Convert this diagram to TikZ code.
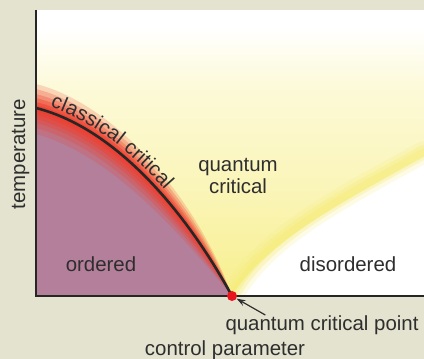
\documentclass[tikz,border=0pt]{standalone}
\usepackage{fontspec}
\usetikzlibrary{arrows.meta,decorations.text}
\newfontfamily\plotsans{Liberation Sans}
\newcommand{\plotfont}{\plotsans\fontsize{20.5}{21.5}\selectfont}
\definecolor{panel}{HTML}{E4E3CF}
\definecolor{orderedfill}{HTML}{B47F9A}
\definecolor{glow}{HTML}{EE4030}
\definecolor{fan}{HTML}{F6EC78}
\definecolor{ink}{HTML}{2E2E2E}
\definecolor{qcpred}{HTML}{E8141E}
\pgfdeclareverticalshading{plotsky}{100bp}{color(0bp)=(fan!85!white);
  color(25bp)=(fan!85!white); color(42bp)=(fan!55!white);
  color(62bp)=(fan!28!white); color(72bp)=(white); color(100bp)=(white)}

\begin{document}
\begin{tikzpicture}[x=1bp, y=1bp,
  axis/.style={line width=2.4bp, draw=black!85},
  phase/.style={line width=2.6bp, draw=black!85},
  lbl/.style={font=\plotfont, text=ink, inner sep=0pt},
  band/.style={fill=glow, draw=none},
  halo/.style={draw=fan, line cap=round}
]
% panel and plot area
\fill[panel] (0,0) rectangle (424,359);
\useasboundingbox (0,0) rectangle (424,359);
\shade[shading=plotsky] (36,63) rectangle (424,348);

\begin{scope}
\clip (36,63) rectangle (424,348);
% disordered side
\fill[white] (232,63) .. controls (265,115) and (330,150) .. (424,202)
  -- (424,63) -- cycle;
\draw[halo, line width=22bp, opacity=.2] (232,63) .. controls (263,119) and (329,155) .. (424,207);
\draw[halo, line width=14bp, opacity=.3] (232,63) .. controls (263,119) and (329,155) .. (424,207);
\draw[halo, line width=7bp, opacity=.4] (232,63) .. controls (263,119) and (329,155) .. (424,207);
% ordered side
\fill[orderedfill] (36,63) -- (36,251) .. controls (115,231) and (185,149) .. (232,63) -- cycle;
% glow round the classical line
\fill[band, opacity=.2] (36,275) .. controls (115,255) and (197,161) .. (232,63)
  .. controls (172,136) and (107.2,205) .. (36,225) -- cycle;
\fill[band, opacity=.25] (36,270) .. controls (115,250) and (194.5,158.5) .. (232,63)
  .. controls (175,139) and (109,211) .. (36,231) -- cycle;
\fill[band, opacity=.3] (36,265) .. controls (115,245) and (192,156) .. (232,63)
  .. controls (177.5,141.5) and (110.5,216) .. (36,236) -- cycle;
\fill[band, opacity=.4] (36,261) .. controls (115,241) and (190,154) .. (232,63)
  .. controls (179.5,143.5) and (111.7,220) .. (36,240) -- cycle;
\fill[band, opacity=.55] (36,257) .. controls (115,237) and (188,152) .. (232,63)
  .. controls (181.5,145.5) and (112.9,224) .. (36,244) -- cycle;
\fill[band, opacity=.7] (36,254) .. controls (115,234) and (186.5,150.5) .. (232,63)
  .. controls (183,147) and (113.8,227) .. (36,247) -- cycle;
\end{scope}

% phase boundary and axes
\draw[phase] (36,251) .. controls (115,231) and (185,149) .. (232,63);
\path[decorate, decoration={text along path, text={|\plotfont|classical critical},
  text color=ink, raise=5bp, text align={left indent=13bp}}]
  (36,251) .. controls (115,231) and (185,149) .. (232,63);
\draw[axis] (36,349) -- (36,63) -- (424,63);

\node[circle, fill=qcpred, minimum size=10bp, inner sep=0pt] (qcp) at (232,63) {};

% labels
\node[lbl, anchor=base] (ordered) at (101,88) {ordered};
\node[lbl, anchor=base] (disordered) at (348,88) {disordered};
\node[lbl, align=center] (qc) at (238,183) {quantum\\critical};
\node[lbl, anchor=base] (qcplabel) at (322,29) {quantum critical point};
\node[lbl, anchor=base] (xlabel) at (225,4) {control parameter};
\node[lbl, anchor=base, rotate=90] (ylabel) at (25,205) {temperature};

\draw[-{Stealth[length=9bp,width=6bp]}, line width=1.2bp, ink]
  ([xshift=40bp]qcplabel.north west) -- (qcp);
\end{tikzpicture}
\end{document}
